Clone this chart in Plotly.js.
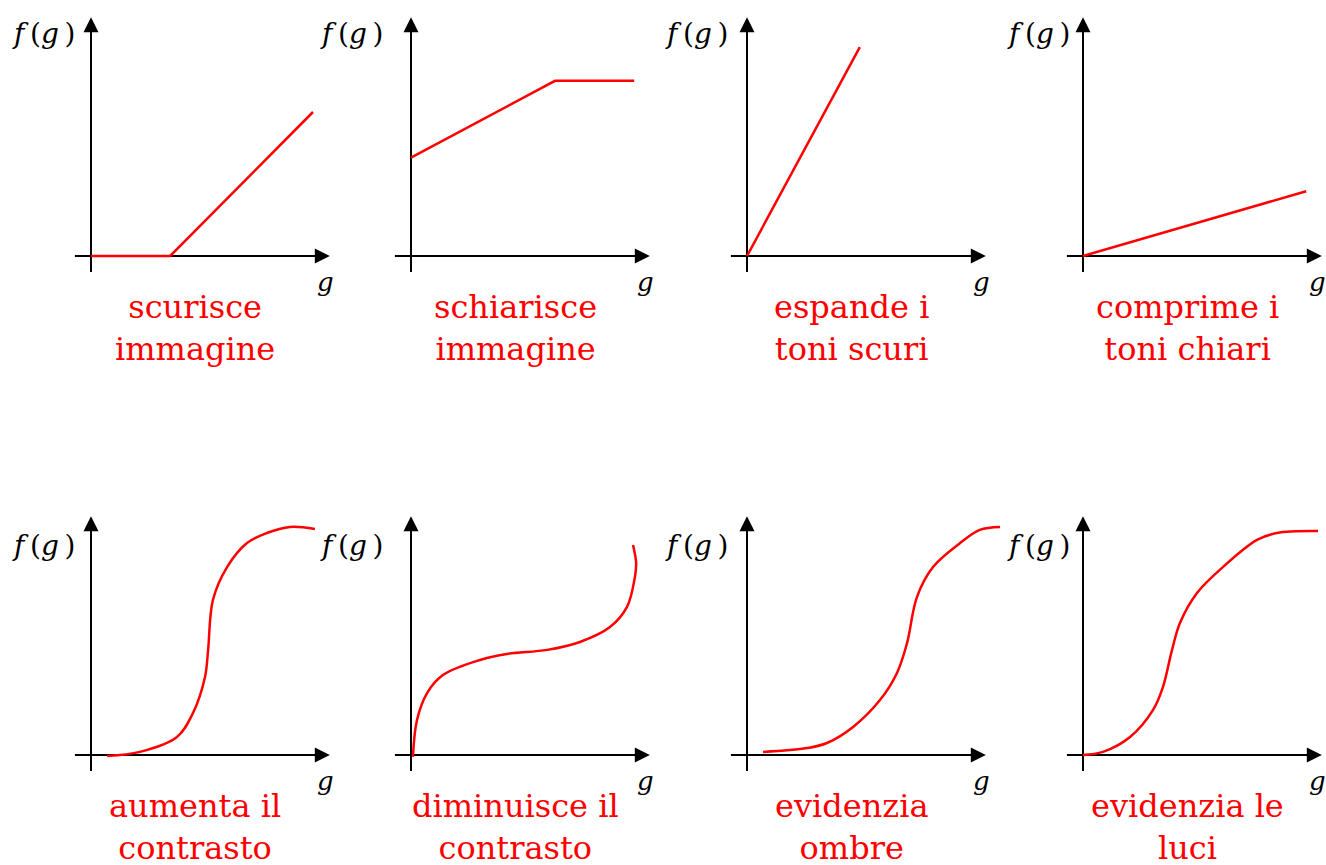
<!DOCTYPE html>
<html>
<head>
<meta charset="utf-8">
<script src="https://cdn.plot.ly/plotly-3.0.1.min.js"></script>
<style>body{margin:0;background:#fff}</style>
</head>
<body>
<div id="graph" style="width:1326px;height:865px"></div>
<script>
// Curve di trasformazione dei toni: g = livello in ingresso, f(g) = livello in uscita
// unita' degli assi: 0 = origine, 100 = punta della freccia

var titoli = [
    "scurisce<br>immagine", "schiarisce<br>immagine", "espande i<br>toni scuri", "comprime i<br>toni chiari",
    "aumenta il<br>contrasto", "diminuisce il<br>contrasto", "evidenzia<br>ombre", "evidenzia le<br>luci"
];

// riga 1: spezzate
var g1 = [0, 33, 92.5];
var f1 = [0, 0, 60];
var g2 = [0, 60, 93];
var f2 = [41, 73, 73];
var g3 = [0, 47];
var f3 = [0, 87];
var g4 = [0, 93];
var f4 = [0, 27];

// riga 2: curve
var g5 = [6.7, 20.4, 35.8, 42.5, 47.5, 48.8, 50.8, 56.7, 65, 73.3, 82.9, 93.3];
var f5 = [-0.4, 1.3, 7.5, 17.5, 32.5, 43.8, 64.6, 78.3, 88.3, 92.5, 95, 94.2];
var g6 = [0.8, 2.5, 6.7, 13.3, 28.8, 40, 56.7, 70.4, 82.9, 90, 93.3, 93.8, 92.5];
var f6 = [-0.8, 14.6, 25.8, 33.3, 39.6, 42.1, 43.8, 47.1, 53.3, 61.7, 74.2, 80, 87.5];
var g7 = [6.7, 25, 33.3, 44.2, 55.4, 62.5, 66.7, 70.8, 77.5, 88.8, 97, 105.4];
var f7 = [1.3, 2.9, 5, 11.7, 22.9, 34.2, 46.7, 65.8, 78.3, 88.3, 93.8, 95];
var g8 = [0, 8.3, 19.6, 29.2, 33.3, 37.1, 40.4, 47.5, 58.3, 72.5, 80.8, 97.9];
var f8 = [0, 1.3, 7.5, 18.8, 28.3, 43.8, 55, 67.5, 78.3, 89.6, 92.5, 93.3];

var gg = [g1, g2, g3, g4, g5, g6, g7, g8];
var ff = [f1, f2, f3, f4, f5, f6, f7, f8];

function drawGraph() {
    var W = 1326, H = 865;
    var PX = 2.4; // pixel per unita'
    var colX = [91, 411, 747, 1083];
    var rowY = [256, 755];
    var gapFg = [16, 28, 19, 13]; // distanza etichetta f(g) dall'asse

    var data = [];
    var shapes = [];
    var annotations = [];
    var layout = {
        width: W,
        height: H,
        margin: {l: 0, r: 0, t: 0, b: 0},
        paper_bgcolor: "white",
        plot_bgcolor: "rgba(0,0,0,0)",
        showlegend: false,
        font: {family: "DejaVu Serif", color: "black"}
    };

    for (var i = 0; i < 8; i++) {
        var col = i % 4, row = Math.floor(i / 4);
        var ox = colX[col], oy = rowY[row];
        var n = i === 0 ? "" : String(i + 1);
        var xr = "x" + n, yr = "y" + n;

        var x0 = ox - 20 * PX, x1 = Math.min(W, ox + 110 * PX);
        var yTop = oy - 105 * PX, yBot = oy + 15 * PX;

        layout["xaxis" + n] = {
            domain: [x0 / W, x1 / W],
            range: [(x0 - ox) / PX, (x1 - ox) / PX],
            anchor: yr, visible: false, fixedrange: true
        };
        layout["yaxis" + n] = {
            domain: [1 - yBot / H, 1 - yTop / H],
            range: [-15, 105],
            anchor: xr, visible: false, fixedrange: true
        };

        data.push({
            x: gg[i],
            y: ff[i],
            xaxis: xr, yaxis: yr,
            type: "scatter",
            mode: "lines",
            line: {color: "#ff0000", width: 2.5, shape: row === 1 ? "spline" : "linear"},
            hoverinfo: "skip",
            cliponaxis: false
        });

        // assi (sotto le curve)
        shapes.push({type: "line", xref: xr, yref: yr, x0: -6.7, x1: 95, y0: 0, y1: 0,
            layer: "below", line: {color: "black", width: 2}});
        shapes.push({type: "line", xref: xr, yref: yr, x0: 0, x1: 0, y0: -6.7, y1: 95,
            layer: "below", line: {color: "black", width: 2}});

        // punte delle frecce
        annotations.push({xref: xr, yref: yr, x: 99.5, y: 0, ax: -20, ay: 0, text: "",
            showarrow: true, arrowhead: 2, arrowsize: 1.5, arrowwidth: 2, arrowcolor: "black"});
        annotations.push({xref: xr, yref: yr, x: 0, y: 99.5, ax: 0, ay: 20, text: "",
            showarrow: true, arrowhead: 2, arrowsize: 1.5, arrowwidth: 2, arrowcolor: "black"});

        // etichette assi
        annotations.push({xref: xr, yref: yr, x: 0, y: 100, text: "<i>f</i>\u2009(<i>g</i>\u2009)",
            showarrow: false, xanchor: "right", yanchor: "middle",
            xshift: -gapFg[col] + 2, yshift: row === 0 ? -17 : -30,
            font: {family: "DejaVu Serif", size: 28, color: "black"}});
        annotations.push({xref: xr, yref: yr, x: 100, y: 0, text: "<i>g</i>",
            showarrow: false, xanchor: "center", yanchor: "middle",
            xshift: -6, yshift: -26,
            font: {family: "DejaVu Serif", size: 26, color: "black"}});

        // descrizione in rosso
        annotations.push({xref: xr, yref: yr, x: 0, y: 0, text: titoli[i],
            showarrow: false, xanchor: "center", yanchor: "middle",
            xshift: 104, yshift: -72,
            font: {family: "DejaVu Serif", size: 32, color: "#ff0000"}});
    }

    layout.shapes = shapes;
    layout.annotations = annotations;

    Plotly.newPlot("graph", data, layout, {staticPlot: true, displayModeBar: false});
}

drawGraph();
</script>
</body>
</html>
